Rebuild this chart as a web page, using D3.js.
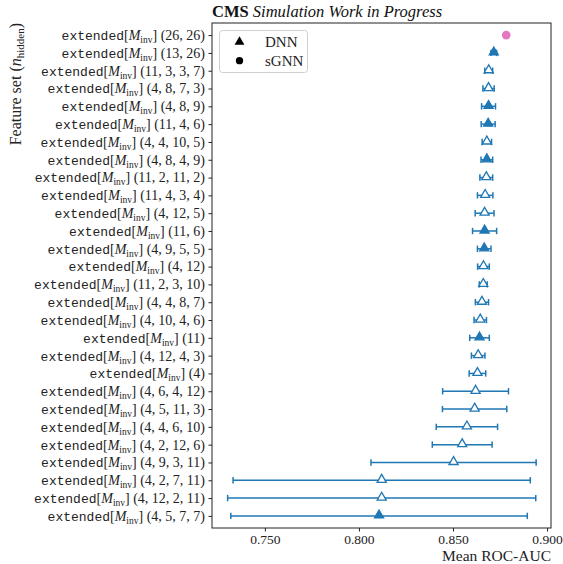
<!DOCTYPE html>
<html>
<head>
<meta charset="utf-8">
<script src="https://cdn.jsdelivr.net/npm/d3@7"></script>
<style>
  html, body { margin: 0; padding: 0; background: #fff; }
  svg { display: block; }
</style>
</head>
<body>
<svg id="chart" width="563" height="564"></svg>
<script>
// Hidden-layer configurations of each feature set, top to bottom
const featureSets = [
  "26, 26", "13, 26", "11, 3, 3, 7", "4, 8, 7, 3", "4, 8, 9", "11, 4, 6",
  "4, 4, 10, 5", "4, 8, 4, 9", "11, 2, 11, 2", "11, 4, 3, 4", "4, 12, 5",
  "11, 6", "4, 9, 5, 5", "4, 12", "11, 2, 3, 10", "4, 4, 8, 7", "4, 10, 4, 6",
  "11", "4, 12, 4, 3", "4", "4, 6, 4, 12", "4, 5, 11, 3", "4, 4, 6, 10",
  "4, 2, 12, 6", "4, 9, 3, 11", "4, 2, 7, 11", "4, 12, 2, 11", "4, 5, 7, 7"
];
// Model type per row
const models = [
  "sGNN", "DNN", "DNN", "DNN", "DNN", "DNN", "DNN", "DNN", "DNN", "DNN",
  "DNN", "DNN", "DNN", "DNN", "DNN", "DNN", "DNN", "DNN", "DNN", "DNN",
  "DNN", "DNN", "DNN", "DNN", "DNN", "DNN", "DNN", "DNN"
];
// Mean ROC-AUC per row
const meanAuc = [
  0.8783, 0.8717, 0.8690, 0.8689, 0.8689, 0.8687, 0.8680, 0.8680, 0.8677,
  0.8671, 0.8668, 0.8668, 0.8666, 0.8662, 0.8661, 0.8654, 0.8645, 0.8641,
  0.8634, 0.8630, 0.8620, 0.8615, 0.8574, 0.8549, 0.8503, 0.8121, 0.8121,
  0.8107
];
// Spread of the ROC-AUC per row (half-width of the error bar)
const aucErr = [
  0.0000, 0.0015, 0.0021, 0.0030, 0.0037, 0.0037, 0.0025, 0.0031, 0.0034,
  0.0041, 0.0050, 0.0064, 0.0036, 0.0031, 0.0021, 0.0035, 0.0033, 0.0052,
  0.0036, 0.0044, 0.0175, 0.0171, 0.0163, 0.0159, 0.0439, 0.0790, 0.0819,
  0.0788
];
// Rows drawn with a solid marker
const solidMarker = [
  true, true, false, false, true, true, false, true, false, false, false,
  true, true, false, false, false, false, true, false, false, false, false,
  false, false, false, false, false, true
];
const xTicks = [0.75, 0.80, 0.85, 0.90];
const legendEntries = ["DNN", "sGNN"];

const rows = featureSets.map((f, i) => ({
  i, f, model: models[i], mean: meanAuc[i], err: aucErr[i], solid: solidMarker[i]
}));

const svg = d3.select("#chart");
const M = { left: 212, right: 551, top: 23, bottom: 528 };
const blue = "#1f77b4", pink = "#e377c2";
const serif = "'Liberation Serif', 'DejaVu Serif', serif";
const mono = "'Liberation Mono', 'DejaVu Sans Mono', monospace";

const x = d3.scaleLinear().domain([0.7219, 0.9021]).range([M.left, M.right]);
const y = d3.scalePoint().domain(d3.range(featureSets.length))
  .range([M.top, M.bottom]).padding(0.68);

// Axes
const xAxis = svg.append("g")
  .attr("transform", `translate(0,${M.bottom})`)
  .call(d3.axisBottom(x).tickValues(xTicks).tickFormat(d3.format(".3f"))
    .tickSize(3.5).tickPadding(3).tickSizeOuter(0));
xAxis.select(".domain").remove();
xAxis.selectAll("text").attr("font-family", serif).attr("font-size", 13.5).attr("fill", "#222");
xAxis.selectAll("line").attr("stroke", "#222");

const yAxis = svg.append("g")
  .attr("transform", `translate(${M.left},0)`)
  .call(d3.axisLeft(y).tickFormat("").tickSize(3.5).tickSizeOuter(0));
yAxis.select(".domain").remove();
yAxis.selectAll("line").attr("stroke", "#222");

// Feature-set tick labels: extended[M_inv] (layers)
const labels = svg.append("g").attr("fill", "#222");
rows.forEach(r => {
  const t = labels.append("text")
    .attr("x", M.left - 7)
    .attr("y", y(r.i))
    .attr("dy", "0.35em")
    .attr("text-anchor", "end")
    .attr("font-size", 14);
  t.append("tspan").attr("font-family", mono).attr("font-size", 13).text("extended");
  t.append("tspan").attr("font-family", serif).text("[");
  t.append("tspan").attr("font-family", serif).attr("font-style", "italic").text("M");
  t.append("tspan").attr("font-family", serif).attr("font-size", 9.5).attr("dy", 3).text("inv");
  t.append("tspan").attr("font-family", serif).attr("dy", -3).text("]");
  t.append("tspan").attr("font-family", serif).text(` (${r.f})`);
});

// Error bars
const bars = svg.append("g").attr("stroke", blue).attr("stroke-width", 1.5);
rows.filter(r => r.err > 0).forEach(r => {
  const yy = y(r.i);
  bars.append("line").attr("x1", x(r.mean - r.err)).attr("x2", x(r.mean + r.err))
    .attr("y1", yy).attr("y2", yy);
  [r.mean - r.err, r.mean + r.err].forEach(v => {
    bars.append("line").attr("x1", x(v)).attr("x2", x(v))
      .attr("y1", yy - 3.2).attr("y2", yy + 3.2);
  });
});

// Markers
const tri = d3.symbol().type(d3.symbolTriangle).size(36);
const circ = d3.symbol().type(d3.symbolCircle).size(60);
svg.append("g").selectAll("path").data(rows).join("path")
  .attr("transform", d => `translate(${x(d.mean)},${y(d.i) - (d.model === "DNN" ? 0.6 : 0)})`)
  .attr("d", d => d.model === "DNN" ? tri() : circ())
  .attr("fill", d => d.model === "sGNN" ? pink : (d.solid ? blue : "#fff"))
  .attr("stroke", d => d.model === "sGNN" ? "none" : blue)
  .attr("stroke-width", 1.3);

// Frame
svg.append("rect")
  .attr("x", M.left).attr("y", M.top)
  .attr("width", M.right - M.left).attr("height", M.bottom - M.top)
  .attr("fill", "none").attr("stroke", "#222").attr("stroke-width", 1);

// Legend
const lg = svg.append("g");
lg.append("rect").attr("x", 219.5).attr("y", 30.5).attr("width", 88).attr("height", 42)
  .attr("rx", 3).attr("fill", "#fff").attr("fill-opacity", 0.8)
  .attr("stroke", "#d0d0d0").attr("stroke-width", 1);
legendEntries.forEach((name, k) => {
  const ly = 42 + k * 18.7;
  lg.append("path")
    .attr("transform", `translate(239.5,${ly})`)
    .attr("d", name === "DNN" ? d3.symbol().type(d3.symbolTriangle).size(42)()
                              : d3.symbol().type(d3.symbolCircle).size(42)())
    .attr("fill", "#000");
  lg.append("text").attr("x", 265).attr("y", ly).attr("dy", "0.35em")
    .attr("font-family", serif).attr("font-size", 15).attr("fill", "#222").text(name);
});

// Title
const title = svg.append("text").attr("x", M.left).attr("y", 17)
  .attr("font-family", serif).attr("font-size", 16.5).attr("fill", "#111");
title.append("tspan").attr("font-weight", "bold").text("CMS");
title.append("tspan").attr("font-style", "italic").text(" Simulation Work in Progress");

// Axis titles
svg.append("text").attr("x", M.right).attr("y", 561)
  .attr("text-anchor", "end").attr("font-family", serif).attr("font-size", 15.5)
  .attr("fill", "#222").text("Mean ROC-AUC");

const yl = svg.append("text")
  .attr("transform", `translate(21,${M.top}) rotate(-90)`)
  .attr("text-anchor", "end").attr("font-family", serif).attr("font-size", 16)
  .attr("fill", "#222");
yl.append("tspan").text("Feature set (");
yl.append("tspan").attr("font-style", "italic").text("n");
yl.append("tspan").attr("font-size", 11).attr("dy", 3).text("hidden");
yl.append("tspan").attr("dy", -3).text(")");
</script>
</body>
</html>
